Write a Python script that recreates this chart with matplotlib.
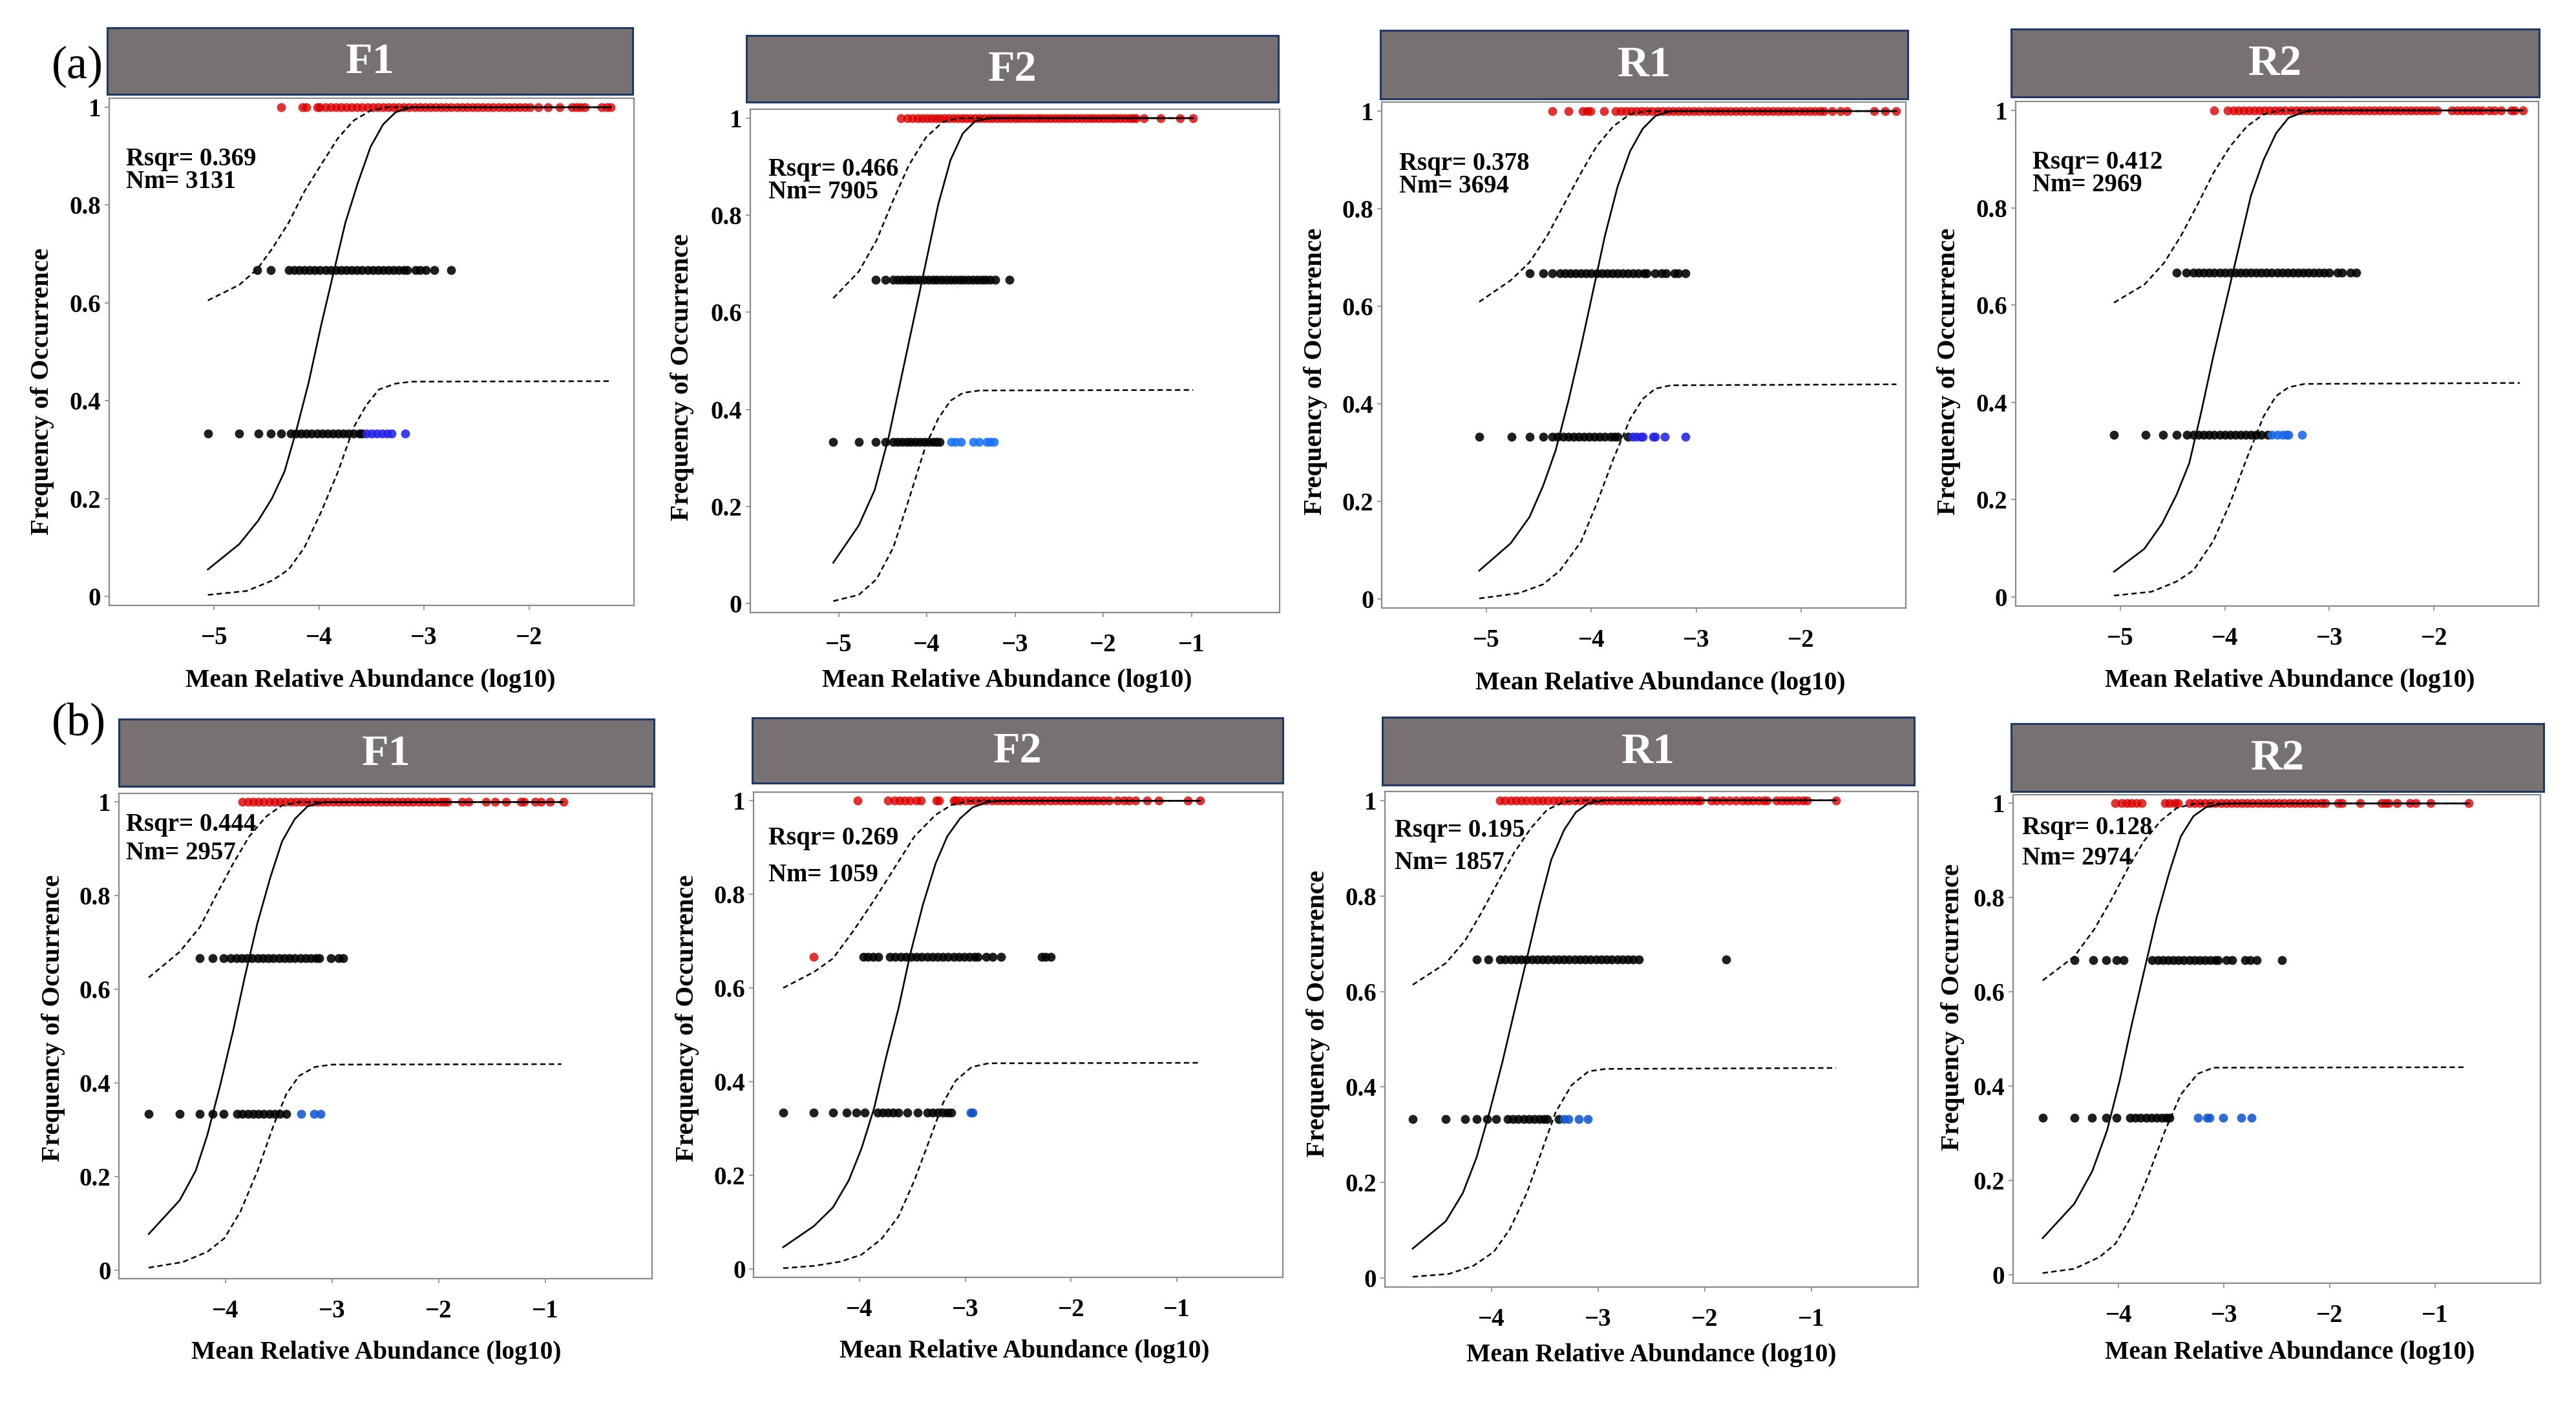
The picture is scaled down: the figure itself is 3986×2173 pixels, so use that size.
import matplotlib
matplotlib.use("Agg")
import matplotlib.pyplot as plt
from matplotlib.patches import Rectangle

# ---- data ----
TITLES = ["F1", "F2", "R1", "R2", "F1", "F2", "R1", "R2"]
RSQR = [0.369, 0.466, 0.378, 0.412, 0.444, 0.269, 0.195, 0.128]
NM = [3131, 7905, 3694, 2969, 2957, 1059, 1857, 2974]
FREQ_HIGH = 1.0
FREQ_MID = 0.667
FREQ_LOW = 0.333
Y_TICKS = [0, 0.2, 0.4, 0.6, 0.8, 1]
Y_TICK_LABELS = ["0", "0.2", "0.4", "0.6", "0.8", "1"]
X_TICKS_A1 = [-5, -4, -3, -2]
X_TICKS_A2 = [-5, -4, -3, -2, -1]
X_TICKS_B = [-4, -3, -2, -1]

# (a) F1
A1_RED = [-4.36, -4.16, -4.12, -4.02, -3.99, -3.94, -3.89, -3.84, -3.79, -3.74, -3.69, -3.64, -3.59, -3.54,
          -3.49, -3.44, -3.39, -3.34, -3.29, -3.24, -3.19, -3.14, -3.09, -3.04, -2.99, -2.94, -2.89, -2.84,
          -2.79, -2.74, -2.69, -2.64, -2.59, -2.54, -2.49, -2.44, -2.39, -2.34, -2.29, -2.24, -2.19, -2.14,
          -2.09, -2.04, -1.99, -1.91, -1.82, -1.71, -1.59, -1.55, -1.51, -1.47, -1.31, -1.26, -1.22]
A1_MID = [-4.59, -4.46, -4.29, -4.24, -4.19, -4.14, -4.09, -4.04, -3.99, -3.94, -3.89, -3.84, -3.79, -3.74,
          -3.69, -3.64, -3.59, -3.54, -3.49, -3.44, -3.39, -3.34, -3.29, -3.24, -3.19, -3.16, -3.08, -3.04,
          -2.98, -2.90, -2.74]
A1_LOW = [-5.06, -4.76, -4.58, -4.46, -4.36, -4.27, -4.22, -4.17, -4.12, -4.07, -4.02, -3.97, -3.92, -3.87,
          -3.82, -3.77, -3.72, -3.67, -3.62, -3.59]
A1_BLUE = [-3.55, -3.50, -3.45, -3.40, -3.35, -3.31, -3.18]
A1_FIT_X = [-5.06, -4.76, -4.58, -4.45, -4.33, -4.22, -4.10, -3.98, -3.86, -3.75, -3.63, -3.51, -3.39, -3.27, -3.12, -1.22]
A1_FIT_Y = [0.055, 0.107, 0.155, 0.20, 0.255, 0.337, 0.437, 0.555, 0.664, 0.764, 0.846, 0.919, 0.965, 0.99, 1.0, 1.0]
A1_UP_X = [-5.06, -4.76, -4.59, -4.45, -4.29, -4.14, -3.98, -3.82, -3.67, -3.51, -3.35, -1.22]
A1_UP_Y = [0.605, 0.637, 0.669, 0.71, 0.764, 0.828, 0.883, 0.937, 0.973, 0.993, 1.0, 1.0]
A1_LO_X = [-5.06, -4.69, -4.45, -4.29, -4.14, -3.98, -3.82, -3.67, -3.55, -3.43, -3.27, -3.12, -1.22]
A1_LO_Y = [0.003, 0.011, 0.032, 0.055, 0.10, 0.173, 0.255, 0.346, 0.391, 0.423, 0.435, 0.439, 0.44]

# (a) F2
A2_RED = [-4.29, -4.22, -4.16, -4.10, -4.05, -4.00, -3.95, -3.90, -3.85, -3.80, -3.75, -3.70, -3.65, -3.60,
          -3.55, -3.50, -3.45, -3.40, -3.35, -3.30, -3.25, -3.20, -3.15, -3.10, -3.05, -3.00, -2.95, -2.90,
          -2.85, -2.80, -2.75, -2.70, -2.65, -2.60, -2.55, -2.50, -2.45, -2.40, -2.35, -2.30, -2.25, -2.20,
          -2.15, -2.10, -2.05, -2.00, -1.95, -1.90, -1.85, -1.80, -1.75, -1.70, -1.66, -1.63, -1.54, -1.35,
          -1.13, -0.98]
A2_MID = [-4.58, -4.47, -4.38, -4.33, -4.28, -4.23, -4.18, -4.13, -4.08, -4.03, -3.98, -3.93, -3.88, -3.83,
          -3.78, -3.73, -3.68, -3.63, -3.58, -3.53, -3.48, -3.43, -3.38, -3.33, -3.28, -3.22, -3.06]
A2_LOW = [-5.06, -4.77, -4.58, -4.47, -4.38, -4.33, -4.28, -4.23, -4.18, -4.13, -4.08, -4.03, -3.98, -3.93,
          -3.89, -3.85]
A2_BLUE = [-3.72, -3.67, -3.61, -3.47, -3.41, -3.32, -3.28, -3.24]
A2_FIT_X = [-5.06, -4.77, -4.59, -4.43, -4.29, -4.15, -4.01, -3.87, -3.73, -3.59, -3.45, -3.27, -0.98]
A2_FIT_Y = [0.084, 0.161, 0.234, 0.344, 0.464, 0.583, 0.702, 0.822, 0.914, 0.969, 0.994, 1.0, 1.0]
A2_UP_X = [-5.06, -4.77, -4.57, -4.38, -4.20, -4.01, -3.82, -3.64, -0.98]
A2_UP_Y = [0.629, 0.684, 0.748, 0.831, 0.904, 0.96, 0.992, 1.0, 1.0]
A2_LO_X = [-5.06, -4.77, -4.57, -4.38, -4.20, -4.01, -3.87, -3.73, -3.59, -3.40, -0.98]
A2_LO_Y = [0.005, 0.018, 0.05, 0.115, 0.216, 0.326, 0.381, 0.418, 0.434, 0.439, 0.44]

# (a) R1
A3_RED = [-4.37, -4.22, -4.08, -4.04, -4.01, -3.88, -3.77, -3.72, -3.67, -3.62, -3.57, -3.52, -3.47, -3.42,
          -3.37, -3.32, -3.27, -3.22, -3.17, -3.12, -3.07, -3.02, -2.97, -2.92, -2.87, -2.82, -2.77, -2.72,
          -2.67, -2.62, -2.57, -2.52, -2.47, -2.42, -2.37, -2.32, -2.27, -2.22, -2.17, -2.12, -2.07, -2.02,
          -1.97, -1.92, -1.87, -1.82, -1.78, -1.70, -1.62, -1.56, -1.30, -1.20, -1.09]
A3_MID = [-4.59, -4.46, -4.37, -4.30, -4.25, -4.20, -4.15, -4.10, -4.05, -4.00, -3.95, -3.90, -3.85, -3.80,
          -3.75, -3.70, -3.65, -3.60, -3.55, -3.50, -3.47, -3.39, -3.33, -3.29, -3.21, -3.17, -3.10]
A3_LOW = [-5.07, -4.76, -4.59, -4.46, -4.37, -4.32, -4.27, -4.22, -4.17, -4.12, -4.07, -4.02, -3.97, -3.92,
          -3.87, -3.82, -3.78, -3.75, -3.65]
A3_BLUE = [-3.61, -3.57, -3.53, -3.51, -3.41, -3.39, -3.30, -3.10]
A3_FIT_X = [-5.07, -4.77, -4.59, -4.46, -4.34, -4.22, -4.10, -3.99, -3.87, -3.75, -3.63, -3.51, -3.39, -3.24, -1.09]
A3_FIT_Y = [0.058, 0.114, 0.168, 0.232, 0.305, 0.405, 0.516, 0.625, 0.745, 0.845, 0.918, 0.964, 0.99, 1.0, 1.0]
A3_UP_X = [-5.07, -4.77, -4.59, -4.42, -4.26, -4.10, -3.95, -3.79, -3.63, -3.47, -1.09]
A3_UP_Y = [0.609, 0.653, 0.69, 0.745, 0.809, 0.873, 0.928, 0.969, 0.994, 1.0, 1.0]
A3_LO_X = [-5.07, -4.69, -4.46, -4.30, -4.10, -3.95, -3.79, -3.63, -3.51, -3.39, -3.24, -1.09]
A3_LO_Y = [0.001, 0.012, 0.03, 0.058, 0.117, 0.195, 0.287, 0.369, 0.41, 0.431, 0.438, 0.44]

# (a) R2
A4_RED = [-4.10, -3.97, -3.92, -3.87, -3.82, -3.77, -3.72, -3.67, -3.62, -3.57, -3.52, -3.47, -3.42, -3.37,
          -3.32, -3.27, -3.22, -3.17, -3.12, -3.07, -3.02, -2.97, -2.92, -2.87, -2.82, -2.77, -2.72, -2.67,
          -2.62, -2.57, -2.52, -2.47, -2.42, -2.37, -2.32, -2.27, -2.22, -2.17, -2.12, -2.07, -2.02, -1.97,
          -1.83, -1.78, -1.73, -1.68, -1.63, -1.58, -1.54, -1.47, -1.42, -1.36, -1.26, -1.23, -1.15]
A4_MID = [-4.46, -4.37, -4.30, -4.25, -4.20, -4.15, -4.10, -4.05, -4.00, -3.95, -3.90, -3.85, -3.80, -3.75,
          -3.70, -3.65, -3.60, -3.55, -3.50, -3.45, -3.40, -3.35, -3.30, -3.25, -3.20, -3.15, -3.10, -3.05,
          -3.00, -2.92, -2.88, -2.80, -2.74]
A4_LOW = [-5.06, -4.76, -4.59, -4.46, -4.36, -4.30, -4.25, -4.20, -4.15, -4.10, -4.05, -4.00, -3.95, -3.90,
          -3.85, -3.80, -3.75, -3.70, -3.65, -3.59]
A4_BLUE = [-3.55, -3.50, -3.45, -3.41, -3.39, -3.26]
A4_FIT_X = [-5.06, -4.77, -4.60, -4.46, -4.34, -4.23, -4.11, -3.99, -3.87, -3.75, -3.63, -3.51, -3.39, -3.24, -3.12, -1.15]
A4_FIT_Y = [0.052, 0.099, 0.151, 0.211, 0.275, 0.376, 0.495, 0.605, 0.715, 0.825, 0.898, 0.953, 0.985, 0.997, 1.0, 1.0]
A4_UP_X = [-5.06, -4.77, -4.58, -4.42, -4.26, -4.11, -3.95, -3.79, -3.63, -3.47, -1.15]
A4_UP_Y = [0.605, 0.642, 0.687, 0.742, 0.807, 0.871, 0.926, 0.967, 0.992, 1.0, 1.0]
A4_LO_X = [-5.06, -4.70, -4.46, -4.30, -4.11, -3.95, -3.79, -3.63, -3.51, -3.39, -3.24, -1.18]
A4_LO_Y = [0.003, 0.011, 0.032, 0.055, 0.115, 0.193, 0.285, 0.371, 0.413, 0.431, 0.438, 0.44]

# (b) F1
B1_RED = [-3.84, -3.79, -3.74, -3.69, -3.64, -3.59, -3.54, -3.49, -3.44, -3.39, -3.34, -3.29, -3.24, -3.19,
          -3.14, -3.09, -3.04, -2.99, -2.94, -2.89, -2.84, -2.79, -2.74, -2.69, -2.64, -2.59, -2.54, -2.49,
          -2.44, -2.39, -2.34, -2.29, -2.24, -2.19, -2.14, -2.09, -2.04, -1.99, -1.95, -1.92, -1.78, -1.72,
          -1.56, -1.47, -1.37, -1.23, -1.20, -1.10, -1.04, -0.96, -0.83]
B1_MID = [-4.24, -4.12, -4.02, -3.95, -3.90, -3.85, -3.80, -3.75, -3.70, -3.65, -3.60, -3.55, -3.50, -3.45,
          -3.40, -3.35, -3.30, -3.25, -3.20, -3.15, -3.12, -3.01, -2.94, -2.90]
B1_LOW = [-4.72, -4.43, -4.24, -4.12, -4.02, -3.89, -3.84, -3.79, -3.74, -3.69, -3.64, -3.59, -3.54, -3.49, -3.43]
B1_BLUE = [-3.29, -3.17, -3.11]
B1_FIT_X = [-4.72, -4.43, -4.28, -4.17, -4.05, -3.93, -3.82, -3.70, -3.58, -3.47, -3.35, -3.23, -3.08, -0.84]
B1_FIT_Y = [0.077, 0.149, 0.212, 0.289, 0.395, 0.51, 0.626, 0.742, 0.839, 0.916, 0.964, 0.991, 1.0, 1.0]
B1_UP_X = [-4.72, -4.43, -4.24, -4.09, -3.93, -3.78, -3.62, -3.47, -3.31, -0.84]
B1_UP_Y = [0.625, 0.68, 0.733, 0.80, 0.868, 0.926, 0.969, 0.993, 1.0, 1.0]
B1_LO_X = [-4.72, -4.40, -4.17, -4.01, -3.86, -3.70, -3.55, -3.43, -3.31, -3.16, -3.00, -0.85]
B1_LO_Y = [0.005, 0.017, 0.039, 0.068, 0.125, 0.212, 0.309, 0.376, 0.415, 0.434, 0.439, 0.44]

# (b) F2
B2_RED = [-4.02, -3.73, -3.67, -3.62, -3.57, -3.52, -3.46, -3.42, -3.27, -3.25, -3.11, -3.09, -3.05, -3.00,
          -2.95, -2.90, -2.85, -2.80, -2.75, -2.70, -2.65, -2.60, -2.55, -2.50, -2.45, -2.40, -2.35, -2.30,
          -2.25, -2.20, -2.15, -2.10, -2.05, -2.00, -1.95, -1.90, -1.85, -1.80, -1.75, -1.70, -1.64, -1.56,
          -1.50, -1.45, -1.39, -1.28, -1.17, -0.90, -0.78]
B2_RED_MID = [-4.43]
B2_MID = [-3.96, -3.92, -3.87, -3.82, -3.71, -3.66, -3.61, -3.56, -3.51, -3.46, -3.41, -3.36, -3.31, -3.26,
          -3.21, -3.16, -3.11, -3.06, -3.01, -2.96, -2.91, -2.88, -2.80, -2.74, -2.66, -2.28, -2.24, -2.19]
B2_LOW = [-4.72, -4.43, -4.25, -4.12, -4.03, -3.95, -3.83, -3.78, -3.73, -3.68, -3.63, -3.55, -3.45, -3.36,
          -3.31, -3.26, -3.21, -3.17, -3.13]
B2_BLUE = [-2.95, -2.93]
B2_FIT_X = [-4.72, -4.43, -4.25, -4.10, -3.98, -3.86, -3.75, -3.63, -3.52, -3.40, -3.28, -3.17, -3.05, -2.93, -2.78, -2.63, -0.78]
B2_FIT_Y = [0.046, 0.091, 0.131, 0.189, 0.257, 0.344, 0.45, 0.557, 0.672, 0.778, 0.866, 0.924, 0.962, 0.986, 0.998, 1.0, 1.0]
B2_UP_X = [-4.72, -4.43, -4.25, -4.06, -3.86, -3.67, -3.48, -3.28, -3.13, -2.97, -2.82, -0.78]
B2_UP_Y = [0.60, 0.634, 0.663, 0.721, 0.788, 0.856, 0.924, 0.97, 0.991, 0.999, 1.0, 1.0]
B2_LO_X = [-4.72, -4.43, -4.18, -3.98, -3.79, -3.63, -3.48, -3.32, -3.21, -3.09, -2.94, -2.78, -0.78]
B2_LO_Y = [0.001, 0.006, 0.015, 0.03, 0.064, 0.112, 0.189, 0.286, 0.354, 0.402, 0.431, 0.439, 0.44]

# (b) R1
B3_RED = [-3.92, -3.87, -3.82, -3.77, -3.72, -3.67, -3.62, -3.57, -3.52, -3.47, -3.42, -3.37, -3.32, -3.27,
          -3.22, -3.17, -3.12, -3.07, -3.02, -2.97, -2.92, -2.87, -2.82, -2.77, -2.72, -2.67, -2.62, -2.57,
          -2.52, -2.47, -2.42, -2.37, -2.32, -2.27, -2.22, -2.17, -2.12, -2.07, -2.04, -1.94, -1.89, -1.83,
          -1.77, -1.71, -1.65, -1.60, -1.55, -1.50, -1.45, -1.42, -1.33, -1.28, -1.23, -1.18, -1.13, -1.08,
          -1.04, -0.77]
B3_MID = [-4.14, -4.03, -3.92, -3.87, -3.82, -3.77, -3.72, -3.67, -3.62, -3.57, -3.52, -3.47, -3.42, -3.37,
          -3.32, -3.27, -3.22, -3.17, -3.12, -3.07, -3.02, -2.97, -2.92, -2.87, -2.82, -2.77, -2.72, -2.67,
          -2.62, -1.80]
B3_LOW = [-4.74, -4.43, -4.25, -4.14, -4.04, -3.96, -3.85, -3.80, -3.75, -3.70, -3.65, -3.60, -3.55, -3.51,
          -3.48, -3.37]
B3_BLUE = [-3.32, -3.28, -3.18, -3.10]
B3_FIT_X = [-4.74, -4.43, -4.27, -4.14, -4.02, -3.90, -3.79, -3.67, -3.55, -3.44, -3.32, -3.21, -3.09, -2.93, -0.77]
B3_FIT_Y = [0.062, 0.119, 0.178, 0.253, 0.347, 0.451, 0.555, 0.668, 0.782, 0.876, 0.938, 0.975, 0.994, 1.0, 1.0]
B3_UP_X = [-4.74, -4.43, -4.25, -4.10, -3.94, -3.79, -3.63, -3.48, -3.32, -3.17, -0.77]
B3_UP_Y = [0.614, 0.659, 0.706, 0.763, 0.829, 0.89, 0.942, 0.98, 0.997, 1.0, 1.0]
B3_LO_X = [-4.74, -4.40, -4.17, -3.98, -3.83, -3.67, -3.52, -3.40, -3.25, -3.09, -2.93, -0.77]
B3_LO_Y = [0.003, 0.009, 0.026, 0.055, 0.102, 0.178, 0.272, 0.347, 0.404, 0.433, 0.438, 0.44]

# (b) R2
B4_RED = [-4.03, -3.97, -3.92, -3.88, -3.83, -3.78, -3.56, -3.52, -3.47, -3.44, -3.33, -3.28, -3.23, -3.18,
          -3.13, -3.08, -3.03, -2.98, -2.93, -2.88, -2.83, -2.78, -2.73, -2.68, -2.63, -2.58, -2.53, -2.48,
          -2.43, -2.38, -2.33, -2.28, -2.23, -2.18, -2.13, -2.08, -2.04, -1.92, -1.88, -1.71, -1.51, -1.47,
          -1.44, -1.36, -1.24, -1.18, -1.04, -0.68]
B4_MID = [-4.42, -4.24, -4.12, -4.02, -3.95, -3.68, -3.63, -3.58, -3.53, -3.48, -3.43, -3.38, -3.33, -3.28,
          -3.23, -3.18, -3.13, -3.08, -3.06, -2.98, -2.92, -2.80, -2.75, -2.69, -2.45]
B4_LOW = [-4.72, -4.42, -4.25, -4.12, -4.02, -3.89, -3.84, -3.79, -3.74, -3.69, -3.64, -3.59, -3.55, -3.52]
B4_BLUE = [-3.25, -3.16, -3.14, -3.01, -2.84, -2.74]
B4_FIT_X = [-4.72, -4.42, -4.25, -4.11, -3.99, -3.88, -3.76, -3.64, -3.52, -3.41, -3.29, -3.17, -3.02, -2.86, -0.68]
B4_FIT_Y = [0.077, 0.15, 0.219, 0.305, 0.411, 0.526, 0.642, 0.757, 0.853, 0.93, 0.973, 0.992, 0.999, 1.0, 1.0]
B4_UP_X = [-4.72, -4.42, -4.23, -4.07, -3.91, -3.76, -3.60, -3.45, -3.29, -3.13, -0.68]
B4_UP_Y = [0.624, 0.675, 0.733, 0.795, 0.863, 0.92, 0.963, 0.99, 0.999, 1.0, 1.0]
B4_LO_X = [-4.72, -4.42, -4.18, -4.03, -3.88, -3.72, -3.56, -3.41, -3.25, -3.10, -0.70]
B4_LO_Y = [0.003, 0.012, 0.037, 0.065, 0.123, 0.209, 0.305, 0.382, 0.426, 0.439, 0.44]

# ---- layout (pixel boxes in the 3986x2173 canvas) ----
W, H = 3986, 2173
DPI = 100
AX_BOX = [(169, 152, 981, 937), (1161, 169, 1980, 948), (2138, 158, 2949, 941), (3119, 157, 3928, 938),
          (184, 1228, 1009, 1979), (1166, 1226, 1985, 1977), (2143, 1225, 2968, 1992), (3115, 1230, 3931, 1986)]
HEAD_BOX = [(166, 43, 979, 146), (1155, 55, 1978, 158), (2136, 47, 2952, 153), (3112, 45, 3929, 150),
            (184, 1113, 1012, 1217), (1164, 1111, 1985, 1212), (2139, 1110, 2962, 1215), (3112, 1120, 3936, 1225)]
XLIMS = [(-6, -1), (-6, 0), (-6, -1), (-6, -1), (-5, 0), (-5, 0), (-5, 0), (-5, 0)]
XTICKS = [X_TICKS_A1, X_TICKS_A2, X_TICKS_A1, X_TICKS_A1, X_TICKS_B, X_TICKS_B, X_TICKS_B, X_TICKS_B]
YLABEL_POS = [(66, 606), (1055, 584), (2035, 575), (3015, 575),
              (83, 1576), (1064, 1576), (2040, 1569), (3021, 1559)]
XLABEL_POS = [(573, 1054), (1558, 1054), (2569, 1057), (3543, 1054),
              (582, 2094), (1585, 2091), (2555, 2098), (3543, 2094)]
STAT_POS = [(195, 256, 291), (1189, 272, 307), (2165, 263, 298), (3145, 261, 296),
            (195, 1286, 1330), (1189, 1307, 1364), (2158, 1295, 1345), (3129, 1291, 1338)]
BLUES = ["#2222E8", "#1A72F5", "#2424E6", "#1A66E8", "#1256D2", "#1050C8", "#1458D0", "#1458D0"]

RED = "#DA0000"
GRAY_FRAME = "#8a8a8a"
HEAD_FACE = "#787171"
HEAD_EDGE = "#1E3A64"
SERIF = ["Liberation Serif", "DejaVu Serif"]

plt.rcParams["font.family"] = SERIF
plt.rcParams["axes.unicode_minus"] = True


def fx(px):
    return px / W


def fy(py):
    return 1 - py / H


def draw_panel(fig, i, red, red_mid, mid, low, blue, fit, up, lo):
    x0, y0, x1, y1 = AX_BOX[i]
    ax = fig.add_axes([fx(x0), fy(y1), (x1 - x0) / W, (y1 - y0) / H])
    ms = 100
    ax.scatter(red, [FREQ_HIGH] * len(red), s=ms, color=RED, alpha=0.8, linewidths=0, zorder=2)
    if red_mid:
        ax.scatter(red_mid, [FREQ_MID] * len(red_mid), s=ms, color=RED, alpha=0.8, linewidths=0, zorder=2)
    ax.scatter(mid, [FREQ_MID] * len(mid), s=ms, color="black", alpha=0.88, linewidths=0, zorder=2)
    ax.scatter(low, [FREQ_LOW] * len(low), s=ms, color="black", alpha=0.88, linewidths=0, zorder=2)
    ax.scatter(blue, [FREQ_LOW] * len(blue), s=ms, color=BLUES[i], alpha=0.88, linewidths=0, zorder=2)

    ax.plot(fit[0], fit[1], color="black", lw=1.9, zorder=3)
    ax.plot(up[0], up[1], color="black", lw=1.8, ls=(0, (3.3, 2.1)), zorder=3)
    ax.plot(lo[0], lo[1], color="black", lw=1.8, ls=(0, (3.3, 2.1)), zorder=3)

    ax.set_xlim(*XLIMS[i])
    ax.set_ylim(-0.0185, 1.0185)
    ax.set_xticks(XTICKS[i])
    ax.set_yticks(Y_TICKS)
    ax.set_yticklabels(Y_TICK_LABELS)
    for lab in ax.get_xticklabels() + ax.get_yticklabels():
        lab.set_fontweight("bold")
    for sp in ax.spines.values():
        sp.set_color(GRAY_FRAME)
        sp.set_linewidth(1.6)
    ax.tick_params(axis="both", direction="out", length=5, width=1.2, color=GRAY_FRAME, labelsize=28)
    ax.tick_params(axis="x", pad=18)
    ax.tick_params(axis="y", pad=4)

    # header strip
    hx0, hy0, hx1, hy1 = HEAD_BOX[i]
    fig.add_artist(Rectangle((fx(hx0), fy(hy1)), (hx1 - hx0) / W, (hy1 - hy0) / H,
                             transform=fig.transFigure, facecolor=HEAD_FACE, edgecolor=HEAD_EDGE, lw=2.2))
    fig.text(fx((hx0 + hx1) / 2), fy((hy0 + hy1) / 2 + 2), TITLES[i], color="white", fontsize=49,
             fontweight="bold", ha="center", va="center")

    lx, ly = YLABEL_POS[i]
    fig.text(fx(lx), fy(ly), "Frequency of Occurrence", rotation=90, fontsize=29.5, fontweight="bold",
             ha="center", va="center")
    bx, by = XLABEL_POS[i]
    fig.text(fx(bx), fy(by), "Mean Relative Abundance (log10)", fontsize=28.5, fontweight="bold",
             ha="center", va="center")

    sx, sy1, sy2 = STAT_POS[i]
    fig.text(fx(sx), fy(sy1), f"Rsqr= {RSQR[i]:.3f}", fontsize=28, fontweight="bold", ha="left", va="baseline")
    fig.text(fx(sx), fy(sy2), f"Nm= {NM[i]}", fontsize=28, fontweight="bold", ha="left", va="baseline")


def main():
    fig = plt.figure(figsize=(W / DPI, H / DPI), dpi=DPI)
    fig.patch.set_facecolor("white")

    panels = [
        (A1_RED, [], A1_MID, A1_LOW, A1_BLUE, (A1_FIT_X, A1_FIT_Y), (A1_UP_X, A1_UP_Y), (A1_LO_X, A1_LO_Y)),
        (A2_RED, [], A2_MID, A2_LOW, A2_BLUE, (A2_FIT_X, A2_FIT_Y), (A2_UP_X, A2_UP_Y), (A2_LO_X, A2_LO_Y)),
        (A3_RED, [], A3_MID, A3_LOW, A3_BLUE, (A3_FIT_X, A3_FIT_Y), (A3_UP_X, A3_UP_Y), (A3_LO_X, A3_LO_Y)),
        (A4_RED, [], A4_MID, A4_LOW, A4_BLUE, (A4_FIT_X, A4_FIT_Y), (A4_UP_X, A4_UP_Y), (A4_LO_X, A4_LO_Y)),
        (B1_RED, [], B1_MID, B1_LOW, B1_BLUE, (B1_FIT_X, B1_FIT_Y), (B1_UP_X, B1_UP_Y), (B1_LO_X, B1_LO_Y)),
        (B2_RED, B2_RED_MID, B2_MID, B2_LOW, B2_BLUE, (B2_FIT_X, B2_FIT_Y), (B2_UP_X, B2_UP_Y), (B2_LO_X, B2_LO_Y)),
        (B3_RED, [], B3_MID, B3_LOW, B3_BLUE, (B3_FIT_X, B3_FIT_Y), (B3_UP_X, B3_UP_Y), (B3_LO_X, B3_LO_Y)),
        (B4_RED, [], B4_MID, B4_LOW, B4_BLUE, (B4_FIT_X, B4_FIT_Y), (B4_UP_X, B4_UP_Y), (B4_LO_X, B4_LO_Y)),
    ]
    for i, p in enumerate(panels):
        draw_panel(fig, i, *p)

    fig.text(fx(80), fy(103), "(a)", fontsize=52, ha="left", va="center")
    fig.text(fx(80), fy(1120), "(b)", fontsize=52, ha="left", va="center")

    fig.savefig("out.png", dpi=DPI, facecolor="white")
    plt.close(fig)


if __name__ == "__main__":
    main()
